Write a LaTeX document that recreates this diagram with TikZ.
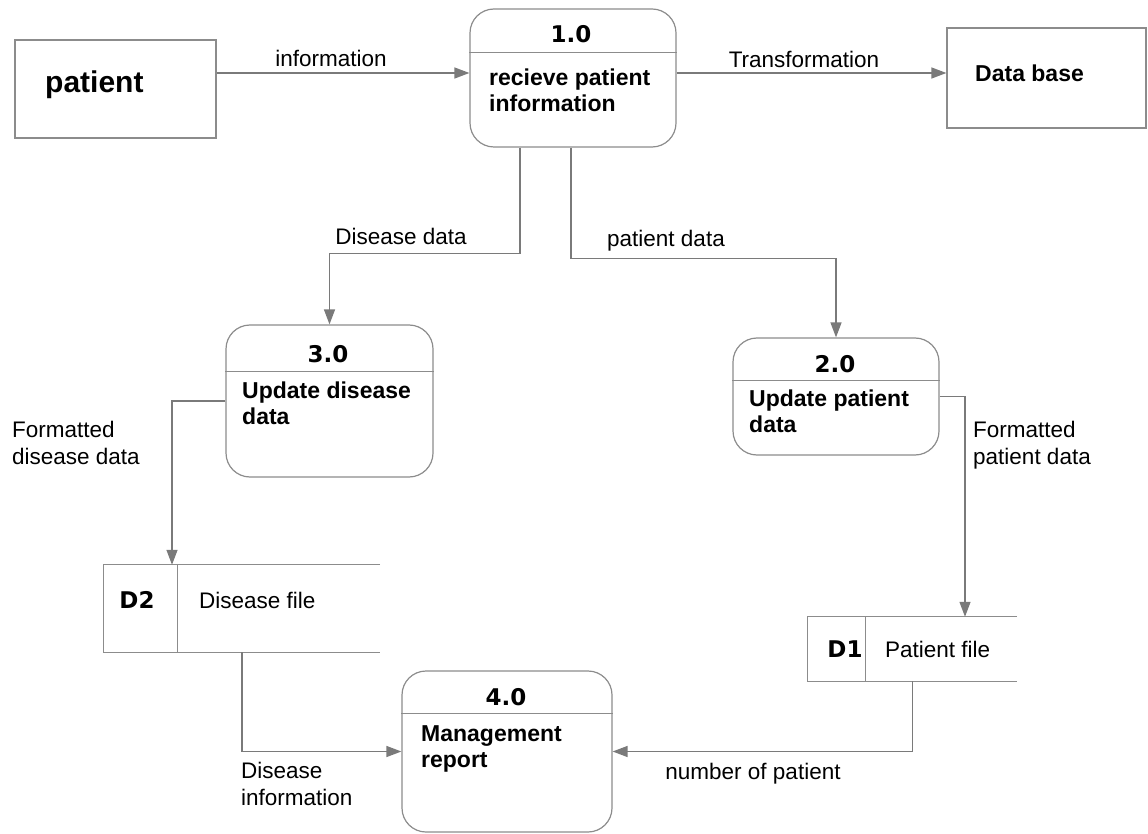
\documentclass[tikz,border=0pt]{standalone}
\usepackage{fontspec}
\setmainfont{Liberation Sans}
\newfontfamily\idfont{DejaVu Sans}
\usetikzlibrary{arrows.meta}
\definecolor{linegray}{HTML}{7A7A7A}
\definecolor{boxgray}{HTML}{8C8C8C}
\begin{document}
\begin{tikzpicture}[x=1pt, y=-1pt,
  every node/.style={font=\fontsize{22.5}{27}\selectfont, inner sep=0pt},
  extbox/.style={draw=boxgray, line width=1.2pt},
  procbox/.style={draw=boxgray, line width=1.2pt, rounded corners=24pt},
  flow/.style={draw=linegray, line width=1.3pt, -{Triangle[length=15pt,width=11pt]}},
  ptitle/.style={font=\idfont\bfseries\fontsize{23}{27}\selectfont, anchor=base},
  ptext/.style={font=\bfseries\fontsize{23}{26}\selectfont, align=left, anchor=base west},
]
\useasboundingbox (0,0) rectangle (1148,834);

% external entities
\node[extbox, minimum width=201pt, minimum height=98pt] (patient) at (115.5,89) {};
\node[anchor=base west, font=\bfseries\fontsize{30}{32}\selectfont] at (45,93) {patient};

\node[extbox, minimum width=199pt, minimum height=100pt] (db) at (1046.5,78) {};
\node[ptext] at (975,82) {Data base};

% process 1.0
\node[procbox, minimum width=206pt, minimum height=138pt] (p1) at (573,78) {};
\draw[boxgray, line width=1.2pt] ([yshift=-44pt]p1.north west) -- ([yshift=-44pt]p1.north east);
\node[ptitle] at (571,43) {1.0};
\node[ptext] at (489,112) {recieve patient\\information};

% process 3.0
\node[procbox, minimum width=207pt, minimum height=152pt] (p3) at (329.5,401) {};
\draw[boxgray, line width=1.2pt] ([yshift=-47pt]p3.north west) -- ([yshift=-47pt]p3.north east);
\node[ptitle] at (328,362) {3.0};
\node[ptext] at (242,424) {Update disease\\data};

% process 2.0
\node[procbox, minimum width=206pt, minimum height=117pt] (p2) at (836,396.5) {};
\draw[boxgray, line width=1.2pt] ([yshift=-43pt]p2.north west) -- ([yshift=-43pt]p2.north east);
\node[ptitle] at (835,372) {2.0};
\node[ptext] at (749,432) {Update patient\\data};

% process 4.0
\node[procbox, minimum width=210pt, minimum height=161pt] (p4) at (507,751.5) {};
\draw[boxgray, line width=1.2pt] ([yshift=-43pt]p4.north west) -- ([yshift=-43pt]p4.north east);
\node[ptitle] at (506,705) {4.0};
\node[ptext] at (421,767) {Management\\report};

% data stores
\node[minimum width=276pt, minimum height=87pt] (d2) at (242,608.5) {};
\draw[extbox] (d2.north east) -- (d2.north west) -- (d2.south west) -- (d2.south east);
\draw[extbox] ([xshift=74pt]d2.north west) -- ([xshift=74pt]d2.south west);
\node[ptitle] at (137,608) {D2};
\node[anchor=base west] at (199,608) {Disease file};

\node[minimum width=209pt, minimum height=64pt] (d1) at (912.5,649) {};
\draw[extbox] (d1.north east) -- (d1.north west) -- (d1.south west) -- (d1.south east);
\draw[extbox] ([xshift=58pt]d1.north west) -- ([xshift=58pt]d1.south west);
\node[ptitle] at (845,657) {D1};
\node[anchor=base west] at (885,657) {Patient file};

% data flows
\draw[flow] ([yshift=16pt]patient.east) -- ([yshift=5pt]p1.west);
\node[anchor=base] at (331,67) {information};

\draw[flow] ([yshift=5pt]p1.east) -- ([yshift=5pt]db.west);
\node[anchor=base] at (804,68) {Transformation};

\draw[flow] ([xshift=-53pt]p1.south) -- ++(0,106) -| (p3.north);
\node[anchor=base] at (401,245) {Disease data};

\draw[flow] ([xshift=-2pt]p1.south) -- ++(0,111) -| (p2.north);
\node[anchor=base] at (666,247) {patient data};

\draw[flow] (p3.west) -| ([xshift=-70pt]d2.north);
\node[anchor=base west, align=left] at (12,464) {Formatted\\disease data};

\draw[flow] (p2.east) -| ([xshift=52.5pt]d1.north);
\node[anchor=base west, align=left] at (973,464) {Formatted\\patient data};

\draw[flow] (d2.south) |- (p4.west);
\node[anchor=base west, align=left] at (241,805) {Disease\\information};

\draw[flow] (d1.south) |- (p4.east);
\node[anchor=base] at (753,779) {number of patient};
\end{tikzpicture}
\end{document}
